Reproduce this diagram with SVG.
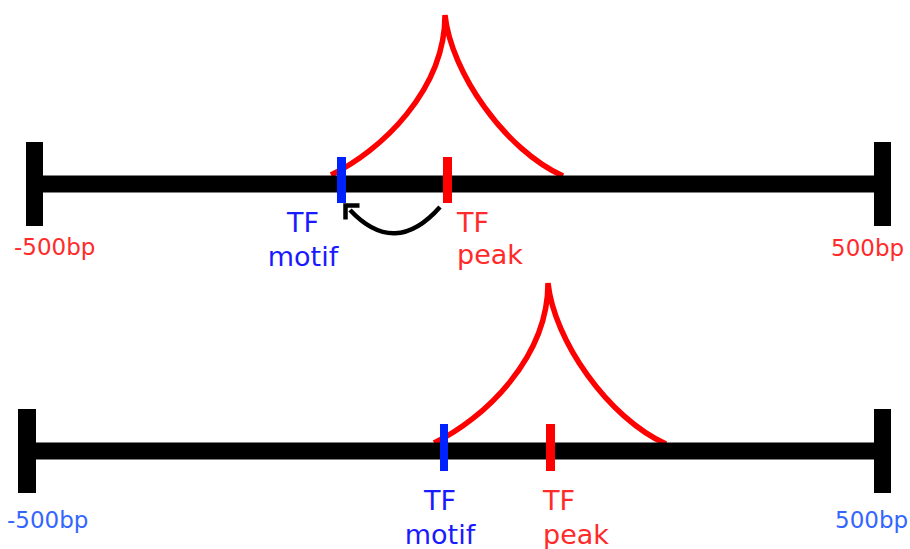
<svg xmlns="http://www.w3.org/2000/svg" width="910" height="549" viewBox="0 0 910 549">
<style>
.axis{stroke:#000;stroke-width:17;fill:none}
.bar{fill:#000}
.peakc{stroke:#ff0000;stroke-width:5.5;fill:none}
.tm{fill:#0022ff}
.tp{fill:#ff0000}
.lbl{font-family:"DejaVu Sans",sans-serif;font-size:27px}
.bp{font-family:"DejaVu Sans",sans-serif;font-size:23px}
.red{fill:#ff2a2a}
.blue{fill:#1a1aff}
.lblue{fill:#3366ff}
</style>
<rect width="910" height="549" fill="#fff"/>
<g id="top-track">
<path class="peakc" d="M331,175 C381,151 445,90 445,15 C451,72 505,150 563,176"/>
<line class="axis" x1="35" y1="184" x2="882" y2="184"/>
<rect class="bar" x="26" y="142" width="17" height="84"/>
<rect class="bar" x="874" y="142" width="17" height="84"/>
<text class="bp red" x="14" y="255">-500bp</text>
<text class="bp red" x="831" y="256">500bp</text>
</g>
<g id="top-motif">
<rect class="tm" x="337" y="157" width="9" height="46"/>
<text class="lbl blue" x="303" y="232" text-anchor="middle">TF</text>
<text class="lbl blue" x="303" y="266" text-anchor="middle">motif</text>
</g>
<g id="top-peak">
<rect class="tp" x="443" y="157" width="9" height="46"/>
<text class="lbl red" x="457" y="232">TF</text>
<text class="lbl red" x="457" y="264">peak</text>
</g>
<g id="bottom-track">
<path class="peakc" d="M434,443 C484,419 548,358 548,283 C554,340 608,418 666,444"/>
<line class="axis" x1="27" y1="451" x2="882" y2="451"/>
<rect class="bar" x="18" y="409" width="18" height="84"/>
<rect class="bar" x="874" y="409" width="17" height="84"/>
<text class="bp lblue" x="7" y="528">-500bp</text>
<text class="bp lblue" x="835" y="528">500bp</text>
</g>
<g id="bottom-motif">
<rect class="tm" x="440" y="424" width="8" height="47"/>
<text class="lbl blue" x="440" y="510" text-anchor="middle">TF</text>
<text class="lbl blue" x="440" y="544" text-anchor="middle">motif</text>
</g>
<g id="bottom-peak">
<rect class="tp" x="546" y="424" width="9" height="47"/>
<text class="lbl red" x="543" y="510">TF</text>
<text class="lbl red" x="543" y="544">peak</text>
</g>
<g id="connectors">
<path d="M440,207 Q395,258 350,210" stroke="#000" stroke-width="4.5" fill="none"/>
<path d="M345.5,219.5 L345.5,205.5 L359.5,205.5" stroke="#000" stroke-width="4.5" fill="none" stroke-linejoin="miter"/>
</g>
</svg>
